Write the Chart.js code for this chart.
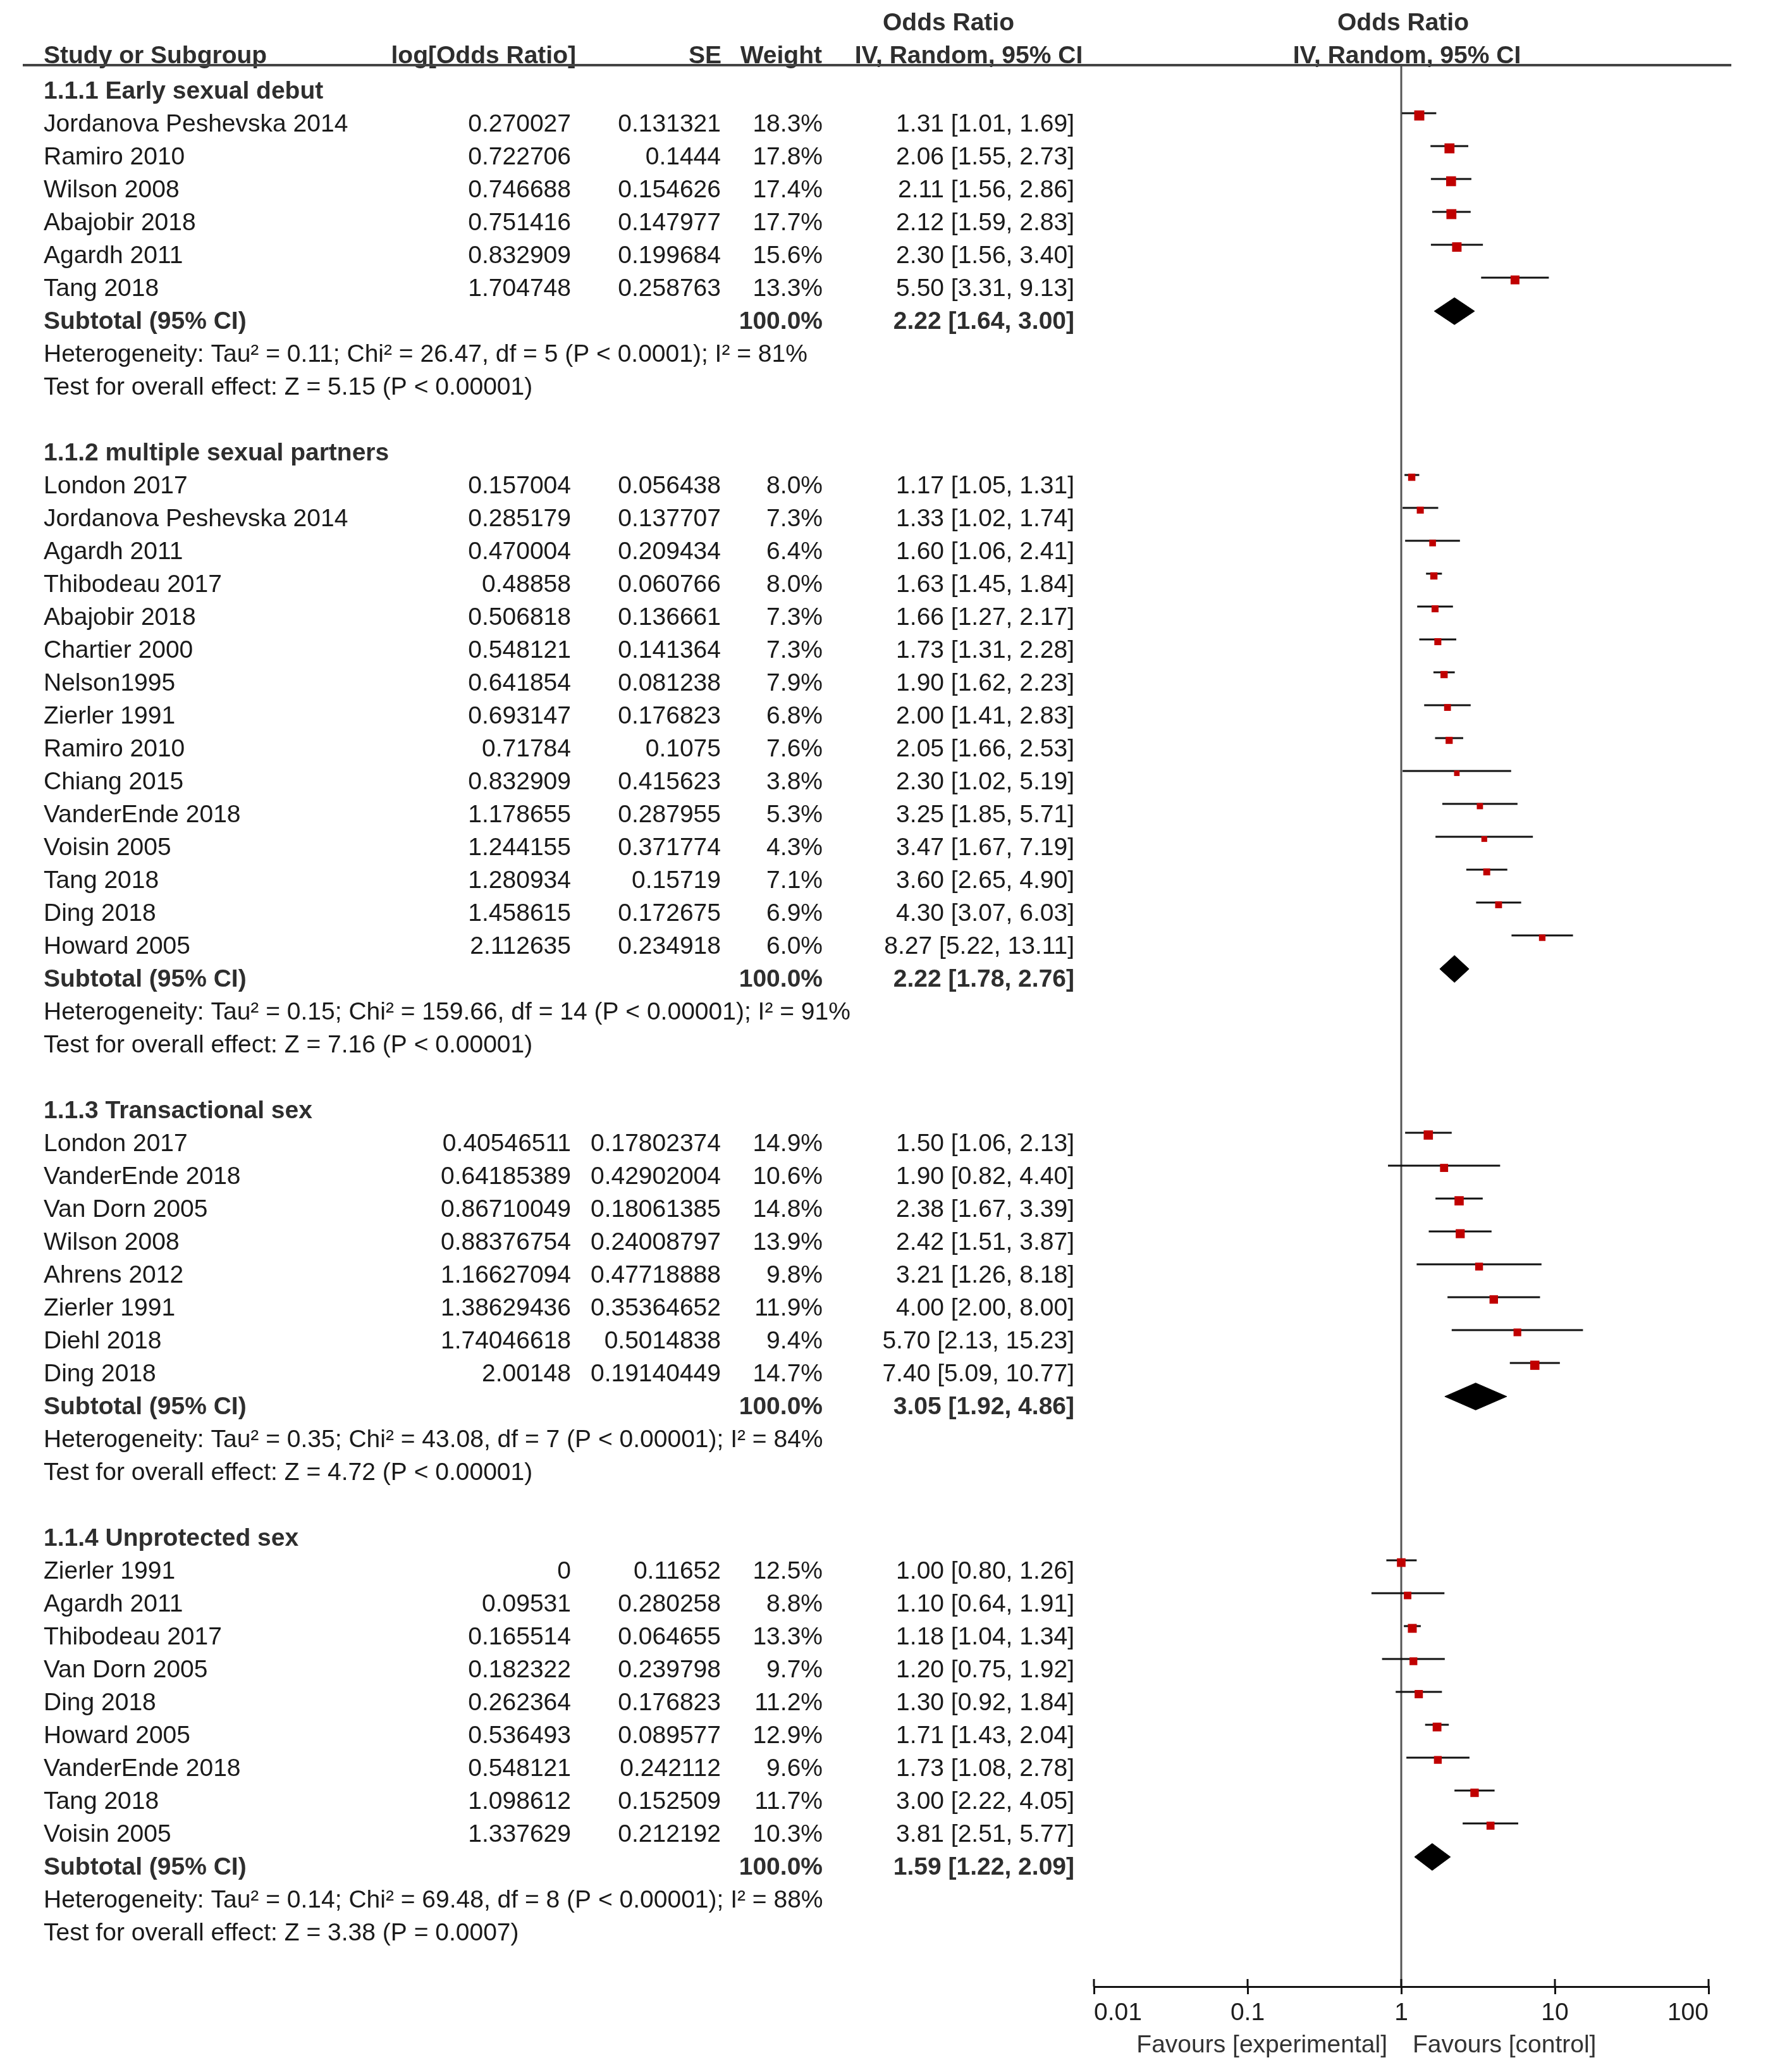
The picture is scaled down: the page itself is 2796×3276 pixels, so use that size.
<!DOCTYPE html>
<html>
<head>
<meta charset="utf-8">
<title>Forest plot</title>
<script src="https://cdn.jsdelivr.net/npm/chart.js@4.4.1/dist/chart.umd.min.js"></script>
<style>
  html, body { margin: 0; padding: 0; background: #fff; overflow: hidden; }
  #wrap { width: 2796px; height: 3276px; position: relative; }
</style>
</head>
<body>
<div id="wrap"><canvas id="forest"></canvas></div>
<script>
/* DATA */
const groups = [
  '1.1.1 Early sexual debut',
  '1.1.2 multiple sexual partners',
  '1.1.3 Transactional sex',
  '1.1.4 Unprotected sex',
];

const studies = [
  ['Jordanova Peshevska 2014', 'Ramiro 2010', 'Wilson 2008', 'Abajobir 2018', 'Agardh 2011', 'Tang 2018'],
  ['London 2017', 'Jordanova Peshevska 2014', 'Agardh 2011', 'Thibodeau 2017', 'Abajobir 2018', 'Chartier 2000',
   'Nelson1995', 'Zierler 1991', 'Ramiro 2010', 'Chiang 2015', 'VanderEnde 2018', 'Voisin 2005', 'Tang 2018',
   'Ding 2018', 'Howard 2005'],
  ['London 2017', 'VanderEnde 2018', 'Van Dorn 2005', 'Wilson 2008', 'Ahrens 2012', 'Zierler 1991', 'Diehl 2018', 'Ding 2018'],
  ['Zierler 1991', 'Agardh 2011', 'Thibodeau 2017', 'Van Dorn 2005', 'Ding 2018', 'Howard 2005', 'VanderEnde 2018',
   'Tang 2018', 'Voisin 2005'],
];

const logOR = [
  [0.270027, 0.722706, 0.746688, 0.751416, 0.832909, 1.704748],
  [0.157004, 0.285179, 0.470004, 0.48858, 0.506818, 0.548121, 0.641854, 0.693147, 0.71784, 0.832909,
   1.178655, 1.244155, 1.280934, 1.458615, 2.112635],
  [0.40546511, 0.64185389, 0.86710049, 0.88376754, 1.16627094, 1.38629436, 1.74046618, 2.00148],
  [0, 0.09531, 0.165514, 0.182322, 0.262364, 0.536493, 0.548121, 1.098612, 1.337629],
];

const se = [
  [0.131321, 0.1444, 0.154626, 0.147977, 0.199684, 0.258763],
  [0.056438, 0.137707, 0.209434, 0.060766, 0.136661, 0.141364, 0.081238, 0.176823, 0.1075, 0.415623,
   0.287955, 0.371774, 0.15719, 0.172675, 0.234918],
  [0.17802374, 0.42902004, 0.18061385, 0.24008797, 0.47718888, 0.35364652, 0.5014838, 0.19140449],
  [0.11652, 0.280258, 0.064655, 0.239798, 0.176823, 0.089577, 0.242112, 0.152509, 0.212192],
];

const weights = [
  [18.3, 17.8, 17.4, 17.7, 15.6, 13.3],
  [8.0, 7.3, 6.4, 8.0, 7.3, 7.3, 7.9, 6.8, 7.6, 3.8, 5.3, 4.3, 7.1, 6.9, 6.0],
  [14.9, 10.6, 14.8, 13.9, 9.8, 11.9, 9.4, 14.7],
  [12.5, 8.8, 13.3, 9.7, 11.2, 12.9, 9.6, 11.7, 10.3],
];

const oddsRatio = [
  [1.31, 2.06, 2.11, 2.12, 2.30, 5.50],
  [1.17, 1.33, 1.60, 1.63, 1.66, 1.73, 1.90, 2.00, 2.05, 2.30, 3.25, 3.47, 3.60, 4.30, 8.27],
  [1.50, 1.90, 2.38, 2.42, 3.21, 4.00, 5.70, 7.40],
  [1.00, 1.10, 1.18, 1.20, 1.30, 1.71, 1.73, 3.00, 3.81],
];

const ciLower = [
  [1.01, 1.55, 1.56, 1.59, 1.56, 3.31],
  [1.05, 1.02, 1.06, 1.45, 1.27, 1.31, 1.62, 1.41, 1.66, 1.02, 1.85, 1.67, 2.65, 3.07, 5.22],
  [1.06, 0.82, 1.67, 1.51, 1.26, 2.00, 2.13, 5.09],
  [0.80, 0.64, 1.04, 0.75, 0.92, 1.43, 1.08, 2.22, 2.51],
];

const ciUpper = [
  [1.69, 2.73, 2.86, 2.83, 3.40, 9.13],
  [1.31, 1.74, 2.41, 1.84, 2.17, 2.28, 2.23, 2.83, 2.53, 5.19, 5.71, 7.19, 4.90, 6.03, 13.11],
  [2.13, 4.40, 3.39, 3.87, 8.18, 8.00, 15.23, 10.77],
  [1.26, 1.91, 1.34, 1.92, 1.84, 2.04, 2.78, 4.05, 5.77],
];

const subtotalOR = [2.22, 2.22, 3.05, 1.59];
const subtotalLower = [1.64, 1.78, 1.92, 1.22];
const subtotalUpper = [3.00, 2.76, 4.86, 2.09];

const heterogeneity = [
  'Heterogeneity: Tau² = 0.11; Chi² = 26.47, df = 5 (P < 0.0001); I² = 81%',
  'Heterogeneity: Tau² = 0.15; Chi² = 159.66, df = 14 (P < 0.00001); I² = 91%',
  'Heterogeneity: Tau² = 0.35; Chi² = 43.08, df = 7 (P < 0.00001); I² = 84%',
  'Heterogeneity: Tau² = 0.14; Chi² = 69.48, df = 8 (P < 0.00001); I² = 88%',
];

const overallTest = [
  'Test for overall effect: Z = 5.15 (P < 0.00001)',
  'Test for overall effect: Z = 7.16 (P < 0.00001)',
  'Test for overall effect: Z = 4.72 (P < 0.00001)',
  'Test for overall effect: Z = 3.38 (P = 0.0007)',
];

const xTicks = [0.01, 0.1, 1, 10, 100];

/* LAYOUT */
const FONT = "'Liberation Sans', Arial, sans-serif";
const FS = 39;
const ROW_PX = 52;          // height of one text line
const FIRST_ROW = 142;      // centre of the first text line
const TEXT_DY = 3;          // text sits a touch lower than the row centre
const AREA_TOP = 103;
const AREA_BOTTOM = 3141;
const yMin = (AREA_TOP - FIRST_ROW) / ROW_PX;
const yMax = (AREA_BOTTOM - FIRST_ROW) / ROW_PX;

// rows of the table (one per text line)
const rows = [];
let r = 0;
groups.forEach((g, gi) => {
  rows.push({ kind: 'group', gi, r: r++ });
  studies[gi].forEach((s, si) => rows.push({ kind: 'study', gi, si, r: r++ }));
  rows.push({ kind: 'subtotal', gi, r: r++ });
  rows.push({ kind: 'het', gi, r: r++ });
  rows.push({ kind: 'test', gi, r: r++ });
  r++; // blank line between subgroups
});

const CI_SHIFT = -0.29;
const BOX_SHIFT = -0.22;
const DIA_SHIFT = -0.27;
const DIA_HALF = 0.41;

const ciData = [];
const boxData = [];
const boxRadius = [];
const diamonds = [];

rows.forEach(row => {
  if (row.kind === 'study') {
    const { gi, si } = row;
    ciData.push({ x: ciLower[gi][si], y: row.r + CI_SHIFT });
    ciData.push({ x: ciUpper[gi][si], y: row.r + CI_SHIFT });
    ciData.push({ x: NaN, y: NaN });
    boxData.push({ x: oddsRatio[gi][si], y: row.r + BOX_SHIFT });
    const side = 2.7 + 3.1 * Math.sqrt(weights[gi][si]);
    boxRadius.push(side / Math.SQRT2);
  }
  if (row.kind === 'subtotal') {
    const gi = row.gi, c = row.r + DIA_SHIFT;
    diamonds.push([
      { x: subtotalLower[gi], y: c },
      { x: subtotalOR[gi], y: c - DIA_HALF },
      { x: subtotalUpper[gi], y: c },
      { x: subtotalOR[gi], y: c + DIA_HALF },
      { x: subtotalLower[gi], y: c },
    ]);
  }
});

const datasets = [
  {
    label: 'studies',
    data: boxData,
    pointStyle: 'rect',
    pointRadius: boxRadius,
    pointBackgroundColor: '#c00000',
    pointBorderWidth: 0,
    showLine: false,
  },
  {
    label: 'ci',
    data: ciData,
    showLine: true,
    spanGaps: false,
    borderColor: '#111',
    borderWidth: 3,
    pointRadius: 0,
  },
  ...diamonds.map((d, i) => ({
    label: 'subtotal ' + (i + 1),
    data: d,
    showLine: true,
    fill: 'shape',
    backgroundColor: '#000',
    borderColor: '#000',
    borderWidth: 1,
    pointRadius: 0,
  })),
  {
    label: 'no effect',
    data: [{ x: 1, y: yMin }, { x: 1, y: yMax }],
    showLine: true,
    borderColor: '#555',
    borderWidth: 3,
    pointRadius: 0,
  },
];

/* TABLE TEXT */
const COL = { name: 69, logor: 903, se: 1140, weight: 1301, ci: 1699 };
const fmtCI = (o, l, u) => `${o.toFixed(2)} [${l.toFixed(2)}, ${u.toFixed(2)}]`;

const tablePlugin = {
  id: 'forestTable',
  afterDraw(chart) {
    const ctx = chart.ctx;
    const ys = chart.scales.y;
    const xs = chart.scales.x;
    const area = chart.chartArea;
    const text = (s, x, y, align, bold, color) => {
      ctx.font = `${bold ? 'bold ' : ''}${FS}px ${FONT}`;
      ctx.textAlign = align;
      ctx.fillStyle = color || (bold ? '#2e2e2e' : '#1a1a1a');
      ctx.fillText(s, x, y);
    };

    ctx.save();

    // header
    ctx.textBaseline = 'alphabetic';
    text('Study or Subgroup', COL.name, 100, 'left', true);
    text('log[Odds Ratio]', 911, 100, 'right', true);
    text('SE', 1141, 100, 'right', true);
    text('Weight', 1300, 100, 'right', true);
    text('Odds Ratio', 1500, 48, 'center', true);
    text('IV, Random, 95% CI', 1532, 100, 'center', true);
    text('Odds Ratio', 2219, 48, 'center', true);
    text('IV, Random, 95% CI', 2225, 100, 'center', true);

    ctx.strokeStyle = '#444';
    ctx.lineWidth = 4;
    ctx.beginPath();
    ctx.moveTo(36, AREA_TOP);
    ctx.lineTo(2738, AREA_TOP);
    ctx.stroke();

    // rows
    ctx.textBaseline = 'middle';
    rows.forEach(row => {
      const y = ys.getPixelForValue(row.r) + TEXT_DY;
      const gi = row.gi;
      if (row.kind === 'group') {
        text(groups[gi], COL.name, y, 'left', true);
      } else if (row.kind === 'study') {
        const si = row.si;
        text(studies[gi][si], COL.name, y, 'left');
        text(String(logOR[gi][si]), COL.logor, y, 'right');
        text(String(se[gi][si]), COL.se, y, 'right');
        text(weights[gi][si].toFixed(1) + '%', COL.weight, y, 'right');
        text(fmtCI(oddsRatio[gi][si], ciLower[gi][si], ciUpper[gi][si]), COL.ci, y, 'right');
      } else if (row.kind === 'subtotal') {
        text('Subtotal (95% CI)', COL.name, y, 'left', true);
        text('100.0%', COL.weight, y, 'right', true);
        text(fmtCI(subtotalOR[gi], subtotalLower[gi], subtotalUpper[gi]), COL.ci, y, 'right', true);
      } else if (row.kind === 'het') {
        text(heterogeneity[gi], COL.name, y, 'left');
      } else if (row.kind === 'test') {
        text(overallTest[gi], COL.name, y, 'left');
      }
    });

    // upper half of the axis tick marks
    ctx.strokeStyle = '#111';
    ctx.lineWidth = 3;
    xTicks.forEach(v => {
      const px = xs.getPixelForValue(v);
      ctx.beginPath();
      ctx.moveTo(px, area.bottom - 12);
      ctx.lineTo(px, area.bottom);
      ctx.stroke();
    });

    // favours labels
    ctx.textBaseline = 'middle';
    const one = xs.getPixelForValue(1);
    text('Favours [experimental]', one - 22, 3234, 'right', false, '#333');
    text('Favours [control]', one + 18, 3234, 'left', false, '#333');

    ctx.restore();
  },
};

/* CHART */
const canvas = document.getElementById('forest');
new Chart(canvas.getContext('2d'), {
  type: 'scatter',
  data: { datasets },
  options: {
    responsive: true,
    maintainAspectRatio: false,
    animation: false,
    layout: { padding: { left: 1730, right: 94, top: AREA_TOP, bottom: 0 } },
    plugins: {
      legend: { display: false },
      tooltip: { enabled: false },
    },
    scales: {
      x: {
        type: 'logarithmic',
        position: 'bottom',
        min: 0.01,
        max: 100,
        afterBuildTicks: scale => { scale.ticks = xTicks.map(v => ({ value: v })); },
        afterFit: scale => { scale.height = 3276 - AREA_BOTTOM; },
        ticks: {
          align: 'inner',
          padding: 7,
          color: '#1e1e1e',
          font: { family: FONT, size: FS },
          callback: v => String(v),
        },
        grid: {
          drawOnChartArea: false,
          drawTicks: true,
          tickLength: 12,
          color: '#111',
          lineWidth: 3,
        },
        border: { display: true, color: '#111', width: 3 },
      },
      y: {
        type: 'linear',
        display: false,
        reverse: true,
        min: yMin,
        max: yMax,
      },
    },
  },
  plugins: [tablePlugin],
});
</script>
</body>
</html>
